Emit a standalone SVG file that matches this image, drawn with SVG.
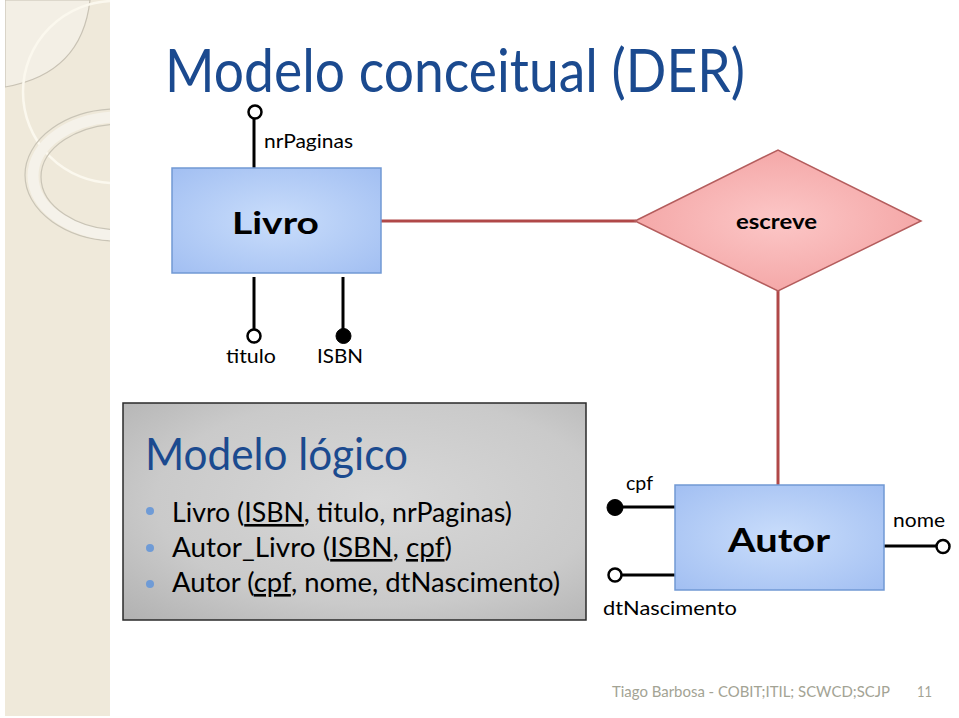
<svg xmlns="http://www.w3.org/2000/svg" width="959" height="718" viewBox="0 0 959 718">
<defs>
<style>
.t{font-family:Lato,"Liberation Sans","DejaVu Sans",sans-serif;fill:#000}
.b{font-weight:bold}
.title{fill:#1b4a8f}
.attr{stroke:#000;stroke-width:3;fill:none}
.rel{stroke:#b04848;stroke-width:3;fill:none}
.oc{fill:#fff;stroke:#000;stroke-width:2.5}
.fc{fill:#000;stroke:#000;stroke-width:1}
.ent{stroke:#7199d4;stroke-width:1.5}
.foot{font-family:Lato,"Liberation Sans",sans-serif;fill:#a3a394;font-size:15px}
</style>
<radialGradient id="gBlue" cx="0.5" cy="0.5" r="0.7">
<stop offset="0" stop-color="#c9ddfb"/>
<stop offset="1" stop-color="#a2bff2"/>
</radialGradient>
<radialGradient id="gRed" cx="0.5" cy="0.5" r="0.6">
<stop offset="0" stop-color="#fcc7c7"/>
<stop offset="1" stop-color="#f3a2a2"/>
</radialGradient>
<radialGradient id="gGray" cx="0.55" cy="0.45" r="0.8">
<stop offset="0" stop-color="#d8d8d8"/>
<stop offset="0.6" stop-color="#cacaca"/>
<stop offset="1" stop-color="#afafaf"/>
</radialGradient>
<clipPath id="strip"><rect x="5" y="0" width="105" height="716"/></clipPath>
</defs>
<rect width="959" height="718" fill="#fff"/>
<g id="background" clip-path="url(#strip)">
<rect x="5" y="0" width="105" height="716" fill="#efe9da"/>
<path d="M90,0 Q82,74 5,87 L5,0 Z" fill="#f3efe5" stroke="#c8c2b4" stroke-width="1.2"/>
<circle cx="114" cy="92" r="91" fill="none" stroke="#fbf8ee" stroke-width="2.5"/>
<ellipse cx="118" cy="175" rx="93" ry="66" fill="none" stroke="#c9c4b6" stroke-width="1.2"/>
<ellipse cx="120" cy="176" rx="87" ry="59" fill="none" stroke="#f5f2ea" stroke-width="11"/>
<ellipse cx="122" cy="177" rx="81" ry="53" fill="none" stroke="#c9c4b6" stroke-width="1.2"/>
</g>
<text class="t title" x="165" y="92" font-size="60" textLength="580" lengthAdjust="spacingAndGlyphs">Modelo conceitual (DER)</text>
<g id="connectors">
<line class="rel" x1="381" y1="221" x2="636" y2="221"/>
<line class="rel" x1="778" y1="290" x2="778" y2="486"/>
<line class="attr" x1="254" y1="119" x2="254" y2="168"/>
<line class="attr" x1="254" y1="277" x2="254" y2="329"/>
<line class="attr" x1="343" y1="277" x2="343" y2="330"/>
<line class="attr" x1="622" y1="507" x2="675" y2="507"/>
<line class="attr" x1="622" y1="575" x2="675" y2="575"/>
<line class="attr" x1="884" y1="546" x2="936" y2="546"/>
</g>
<g id="livro">
<rect class="ent" x="172" y="168" width="209" height="105" fill="url(#gBlue)"/>
<text class="t b" x="232" y="234" font-size="31" textLength="87" lengthAdjust="spacingAndGlyphs">Livro</text>
</g>
<g id="escreve">
<polygon points="635,221 778,150 921,221 778,291" fill="url(#gRed)" stroke="#b45d5d" stroke-width="1.5"/>
<text class="t b" x="736" y="229" font-size="21" textLength="81" lengthAdjust="spacingAndGlyphs">escreve</text>
</g>
<g id="autor">
<rect class="ent" x="675" y="485" width="209" height="105" fill="url(#gBlue)"/>
<text class="t b" x="728" y="552" font-size="33" textLength="102" lengthAdjust="spacingAndGlyphs">Autor</text>
</g>
<g id="attr-nrPaginas">
<circle class="oc" cx="255" cy="112" r="6.5"/>
<text class="t" x="264" y="148" font-size="20" textLength="89" lengthAdjust="spacingAndGlyphs">nrPaginas</text>
</g>
<g id="attr-titulo">
<circle class="oc" cx="254" cy="336" r="6.5"/>
<text class="t" x="226" y="363" font-size="20" textLength="50" lengthAdjust="spacingAndGlyphs">titulo</text>
</g>
<g id="attr-ISBN">
<circle class="fc" cx="343.5" cy="336" r="7.5"/>
<text class="t" x="317" y="363" font-size="20" textLength="46" lengthAdjust="spacingAndGlyphs">ISBN</text>
</g>
<g id="attr-cpf">
<circle class="fc" cx="615" cy="507.5" r="8"/>
<text class="t" x="626" y="490" font-size="20" textLength="27" lengthAdjust="spacingAndGlyphs">cpf</text>
</g>
<g id="attr-dtNascimento">
<circle class="oc" cx="615" cy="575" r="6.5"/>
<text class="t" x="603" y="615" font-size="20" textLength="134" lengthAdjust="spacingAndGlyphs">dtNascimento</text>
</g>
<g id="attr-nome">
<circle class="oc" cx="943" cy="546.5" r="6.5"/>
<text class="t" x="893" y="527" font-size="20" textLength="52" lengthAdjust="spacingAndGlyphs">nome</text>
</g>
<g id="modelo-logico">
<rect x="123" y="403" width="463" height="217" fill="url(#gGray)" stroke="#2a2a2a" stroke-width="1.5"/>
<text class="t title" x="145" y="470" font-size="44" textLength="263" lengthAdjust="spacingAndGlyphs">Modelo lógico</text>
<circle cx="150" cy="511" r="4" fill="#6f9bd6"/>
<circle cx="150" cy="548" r="4" fill="#6f9bd6"/>
<circle cx="150" cy="584" r="4" fill="#6f9bd6"/>
<text class="t" x="172" y="522" font-size="26" textLength="340" lengthAdjust="spacingAndGlyphs">Livro (<tspan text-decoration="underline">ISBN</tspan>, titulo, nrPaginas)</text>
<text class="t" x="172" y="557" font-size="26" textLength="280" lengthAdjust="spacingAndGlyphs">Autor_Livro (<tspan text-decoration="underline">ISBN</tspan>, <tspan text-decoration="underline">cpf</tspan>)</text>
<text class="t" x="172" y="592" font-size="26" textLength="388" lengthAdjust="spacingAndGlyphs">Autor (<tspan text-decoration="underline">cpf</tspan>, nome, dtNascimento)</text>
</g>
<g id="footer">
<text class="foot" x="612" y="697" textLength="278" lengthAdjust="spacingAndGlyphs">Tiago Barbosa - COBIT;ITIL; SCWCD;SCJP</text>
<text class="foot" x="917" y="697" textLength="15" lengthAdjust="spacingAndGlyphs">11</text>
</g>
</svg>
